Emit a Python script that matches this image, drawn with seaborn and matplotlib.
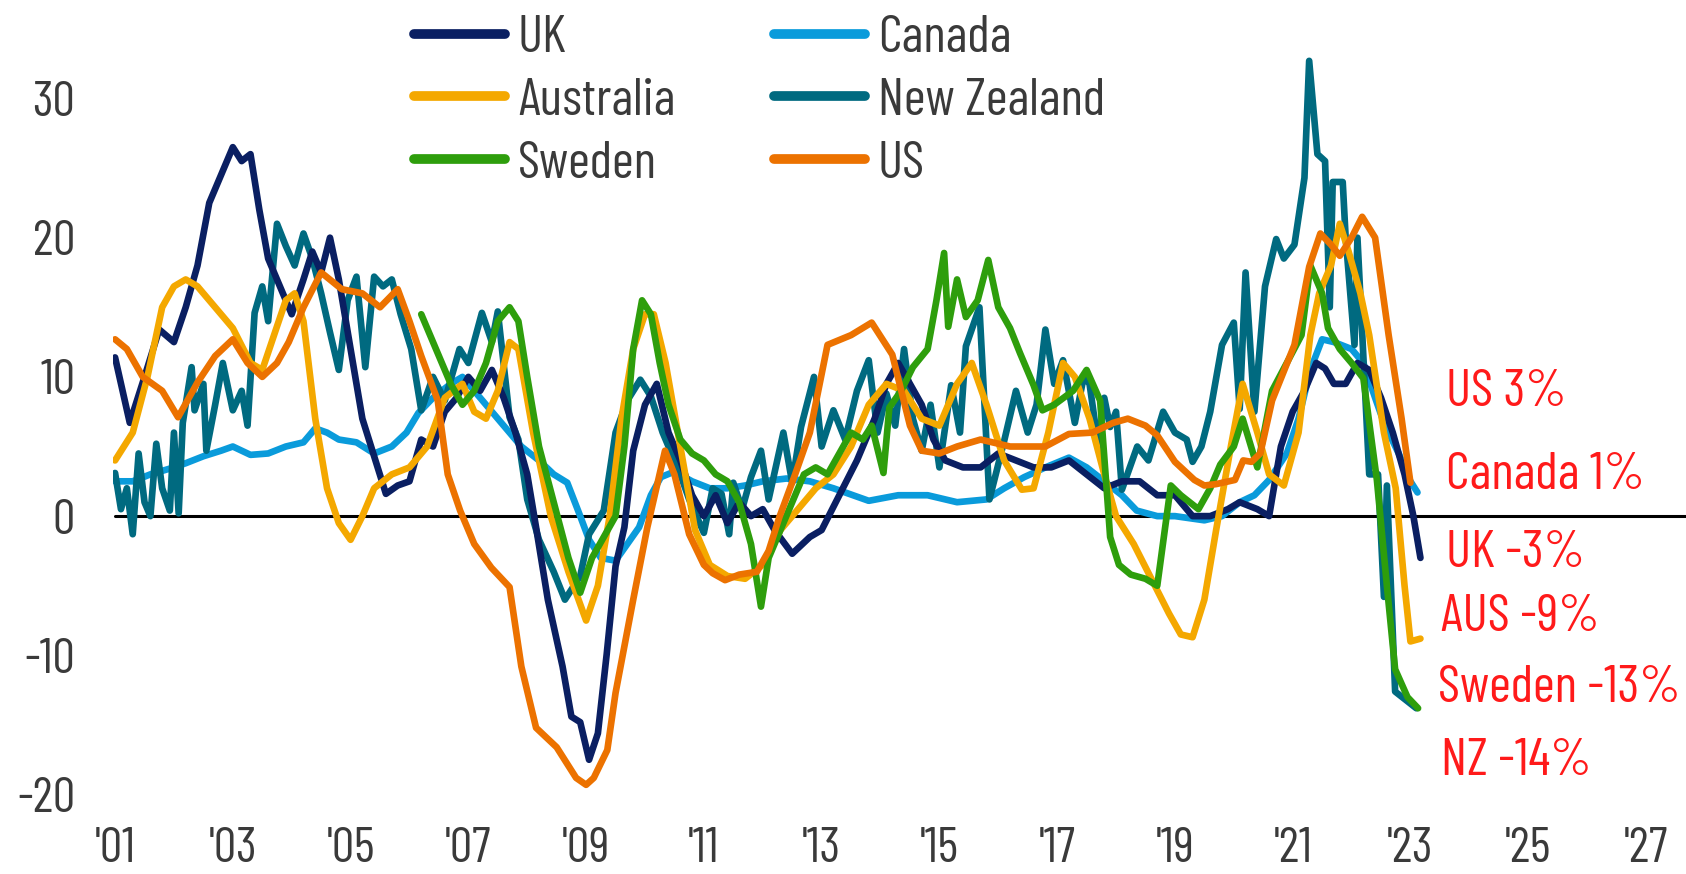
import numpy as np
import pandas as pd
import matplotlib
matplotlib.use("Agg")
import matplotlib.pyplot as plt
import seaborn as sns
from matplotlib.lines import Line2D

# ---------------- data (year fraction, % y/y) ----------------
uk_x = [2001.0, 2001.25, 2001.5, 2001.75, 2002.0, 2002.2, 2002.4, 2002.6, 2002.8, 2003.0, 2003.15, 2003.3,
        2003.45, 2003.6, 2003.8, 2004.0, 2004.2, 2004.35, 2004.5, 2004.65, 2004.8, 2005.0, 2005.2, 2005.4,
        2005.6, 2005.8, 2006.0, 2006.2, 2006.4, 2006.6, 2006.8, 2007.0, 2007.2, 2007.4, 2007.6, 2007.8,
        2008.0, 2008.15, 2008.35, 2008.6, 2008.75, 2008.9, 2009.05, 2009.2, 2009.35, 2009.5, 2009.65, 2009.8,
        2010.0, 2010.2, 2010.4, 2010.6, 2010.8, 2011.0, 2011.2, 2011.4, 2011.6, 2011.8, 2012.0, 2012.2,
        2012.5, 2012.8, 2013.0, 2013.3, 2013.6, 2013.9, 2014.1, 2014.3, 2014.5, 2014.7, 2014.9, 2015.1,
        2015.4, 2015.7, 2016.0, 2016.3, 2016.6, 2016.9, 2017.2, 2017.5, 2017.8, 2018.1, 2018.4, 2018.7,
        2019.0, 2019.3, 2019.6, 2019.9, 2020.1, 2020.4, 2020.6, 2020.8, 2021.0, 2021.2, 2021.4, 2021.55,
        2021.7, 2021.9, 2022.1, 2022.3, 2022.5, 2022.7, 2022.9, 2023.05, 2023.17]
uk_y = [11.4, 6.7, 10.0, 13.4, 12.5, 15.0, 18.0, 22.5, 24.5, 26.5, 25.5, 26.0,
        22.0, 18.5, 16.5, 14.5, 17.0, 19.0, 17.5, 20.0, 17.0, 12.0, 7.0, 4.3,
        1.6, 2.2, 2.5, 5.5, 5.0, 7.5, 8.5, 10.0, 9.0, 10.5, 8.5, 6.0,
        3.0, -0.8, -6.0, -10.8, -14.4, -14.8, -17.5, -15.6, -9.9, -3.6, -0.8, 4.7,
        8.0, 9.5, 6.0, 4.0, 1.5, 0.0, 1.5, -0.5, 1.0, 0.0, 0.5, -1.0,
        -2.7, -1.5, -1.0, 1.5, 4.0, 7.0, 9.5, 11.0, 9.5, 8.0, 5.5, 4.0,
        3.5, 3.5, 4.5, 4.0, 3.5, 3.5, 4.0, 3.0, 2.0, 2.5, 2.5, 1.5,
        1.5, 0.0, 0.0, 0.5, 1.0, 0.5, 0.0, 5.0, 7.5, 9.0, 11.0, 10.6,
        9.5, 9.5, 11.0, 10.5, 8.5, 6.0, 3.0, 0.0, -3.0]

aus_x = [2001.0, 2001.3, 2001.55, 2001.8, 2002.0, 2002.2, 2002.4, 2002.7, 2003.0, 2003.3, 2003.5, 2003.7,
         2003.9, 2004.05, 2004.2, 2004.4, 2004.6, 2004.8, 2005.0, 2005.2, 2005.4, 2005.7, 2006.0, 2006.3,
         2006.6, 2006.9, 2007.1, 2007.3, 2007.5, 2007.7, 2007.85, 2008.1, 2008.4, 2008.7, 2009.0, 2009.2,
         2009.4, 2009.6, 2009.8, 2010.0, 2010.15, 2010.35, 2010.6, 2010.85, 2011.1, 2011.4, 2011.7, 2012.0,
         2012.3, 2012.6, 2012.9, 2013.2, 2013.5, 2013.8, 2014.1, 2014.4, 2014.7, 2015.0, 2015.3, 2015.55,
         2015.8, 2016.1, 2016.4, 2016.6, 2016.85, 2017.1, 2017.3, 2017.55, 2017.8, 2018.0, 2018.3, 2018.6,
         2018.9, 2019.1, 2019.3, 2019.5, 2019.7, 2019.95, 2020.15, 2020.4, 2020.6, 2020.85, 2021.1, 2021.3,
         2021.45, 2021.65, 2021.8, 2021.95, 2022.15, 2022.3, 2022.55, 2022.75, 2022.9, 2023.0, 2023.17]
aus_y = [4.0, 6.0, 10.0, 15.0, 16.5, 17.0, 16.5, 15.0, 13.5, 11.0, 10.5, 13.0,
         15.5, 16.0, 14.0, 7.0, 2.0, -0.5, -1.7, 0.0, 2.0, 3.0, 3.5, 5.0,
         8.5, 9.5, 7.5, 7.0, 9.0, 12.5, 12.0, 6.0, 0.0, -4.0, -7.5, -5.0,
         0.0, 7.0, 12.0, 14.5, 14.5, 11.0, 5.0, -1.0, -3.5, -4.3, -4.5, -3.5,
         -1.0, 0.5, 2.0, 3.0, 5.0, 8.0, 9.5, 9.0, 7.0, 6.5, 9.5, 11.0,
         8.0, 4.0, 1.9, 2.0, 6.0, 11.0, 10.0, 7.0, 3.0, 0.0, -2.0, -4.5,
         -7.0, -8.5, -8.7, -6.0, -1.0, 5.0, 9.5, 6.0, 3.0, 2.2, 6.0, 13.0,
         16.0, 18.0, 21.0, 19.0, 16.0, 13.0, 6.0, 2.0, -5.0, -9.0, -8.8]

swe_x = [2006.2, 2006.45, 2006.7, 2006.9, 2007.1, 2007.3, 2007.5, 2007.7, 2007.85, 2008.0, 2008.2, 2008.45,
         2008.7, 2008.9, 2009.1, 2009.3, 2009.5, 2009.65, 2009.8, 2009.95, 2010.1, 2010.25, 2010.4, 2010.6,
         2010.8, 2011.0, 2011.2, 2011.4, 2011.6, 2011.8, 2011.97, 2012.1, 2012.3, 2012.5, 2012.7, 2012.9,
         2013.1, 2013.3, 2013.5, 2013.7, 2013.85, 2014.05, 2014.15, 2014.35, 2014.55, 2014.8, 2014.95, 2015.08,
         2015.15, 2015.3, 2015.45, 2015.65, 2015.83, 2016.0, 2016.2, 2016.37, 2016.6, 2016.75, 2016.95, 2017.27,
         2017.5, 2017.73, 2017.9, 2018.05, 2018.25, 2018.5, 2018.7, 2018.93, 2019.1, 2019.4, 2019.6, 2019.77,
         2020.0, 2020.15, 2020.4, 2020.65, 2020.9, 2021.15, 2021.3, 2021.5, 2021.6, 2021.8, 2022.0, 2022.2,
         2022.43, 2022.6, 2022.74, 2022.95, 2023.13]
swe_y = [14.5, 12.0, 9.5, 8.0, 9.0, 11.0, 14.0, 15.0, 14.0, 10.0, 5.0, 1.0,
         -3.0, -5.5, -3.0, -1.5, 0.0, 5.0, 12.0, 15.5, 14.5, 11.0, 8.0, 5.5,
         4.5, 4.0, 3.0, 2.5, 1.0, -2.0, -6.5, -3.0, -1.0, 1.0, 3.0, 3.5,
         3.0, 4.5, 6.0, 5.5, 6.5, 3.1, 7.8, 9.0, 10.7, 12.0, 15.5, 18.9,
         13.6, 17.0, 14.3, 15.5, 18.4, 15.0, 13.5, 11.7, 9.4, 7.6, 8.0, 9.0,
         10.5, 8.3, -1.5, -3.5, -4.2, -4.5, -5.0, 2.2, 1.5, 0.5, 2.0, 3.7,
         5.0, 7.0, 3.5, 9.0, 11.0, 13.0, 18.0, 16.0, 13.5, 12.0, 11.0, 9.9,
         2.6, -5.0, -11.0, -13.0, -13.8]

can_x = [2001.0, 2001.3, 2001.6, 2002.0, 2002.2, 2002.5, 2002.8, 2003.0, 2003.3, 2003.6, 2003.9, 2004.2,
         2004.4, 2004.6, 2004.8, 2005.1, 2005.4, 2005.7, 2005.95, 2006.15, 2006.4, 2006.7, 2006.9, 2007.1,
         2007.3, 2007.6, 2007.9, 2008.2, 2008.45, 2008.68, 2008.9, 2009.05, 2009.25, 2009.5, 2009.7, 2009.9,
         2010.1, 2010.27, 2010.5, 2010.8, 2011.1, 2011.4, 2011.7, 2012.0, 2012.4, 2012.8, 2013.2, 2013.8,
         2014.3, 2014.8, 2015.3, 2015.8, 2016.1, 2016.44, 2016.8, 2017.2, 2017.5, 2017.8, 2018.1, 2018.35,
         2018.7, 2019.0, 2019.5, 2019.8, 2020.1, 2020.35, 2020.6, 2020.9, 2021.1, 2021.3, 2021.5, 2021.7,
         2022.0, 2022.2, 2022.4, 2022.55, 2022.8, 2023.0, 2023.12]
can_y = [2.5, 2.5, 3.0, 3.5, 3.8, 4.3, 4.7, 5.0, 4.4, 4.5, 5.0, 5.3,
         6.3, 6.0, 5.5, 5.3, 4.5, 5.0, 6.0, 7.4, 8.5, 9.5, 10.0, 9.0,
         8.0, 6.5, 5.0, 4.0, 3.0, 2.4, 0.0, -1.7, -3.0, -3.2, -2.0, -0.8,
         1.5, 2.8, 3.2, 2.5, 2.0, 2.0, 2.2, 2.5, 2.7, 2.5, 2.0, 1.1,
         1.5, 1.5, 1.0, 1.2, 2.0, 2.8, 3.5, 4.2, 3.5, 2.5, 1.5, 0.4,
         0.0, 0.0, -0.3, 0.0, 1.0, 1.5, 2.6, 4.5, 7.0, 10.5, 12.7, 12.5,
         12.0, 11.0, 8.5, 6.7, 4.5, 2.5, 1.7]

nz_x = [2001.0, 2001.1, 2001.2, 2001.3, 2001.4, 2001.5, 2001.6, 2001.7, 2001.8, 2001.93, 2002.0, 2002.08,
        2002.15, 2002.3, 2002.35, 2002.5, 2002.55, 2002.7, 2002.83, 2003.0, 2003.15, 2003.25, 2003.37, 2003.5,
        2003.6, 2003.75, 2003.9, 2004.05, 2004.2, 2004.35, 2004.5, 2004.65, 2004.8, 2004.95, 2005.1, 2005.25,
        2005.4, 2005.55, 2005.7, 2005.85, 2006.03, 2006.2, 2006.4, 2006.6, 2006.85, 2007.0, 2007.23, 2007.4,
        2007.5, 2007.7, 2007.85, 2008.0, 2008.2, 2008.45, 2008.64, 2008.9, 2009.05, 2009.3, 2009.5, 2009.7,
        2009.92, 2010.1, 2010.3, 2010.6, 2010.75, 2011.0, 2011.15, 2011.3, 2011.43, 2011.5, 2011.65, 2011.8,
        2011.97, 2012.1, 2012.35, 2012.5, 2012.65, 2012.87, 2013.0, 2013.2, 2013.4, 2013.6, 2013.8, 2013.95,
        2014.1, 2014.25, 2014.4, 2014.55, 2014.7, 2014.85, 2015.0, 2015.2, 2015.35, 2015.45, 2015.68, 2015.85,
        2016.1, 2016.3, 2016.5, 2016.65, 2016.8, 2016.95, 2017.1, 2017.3, 2017.45, 2017.55, 2017.7, 2017.8,
        2017.9, 2018.0, 2018.1, 2018.36, 2018.55, 2018.8, 2019.0, 2019.2, 2019.3, 2019.45, 2019.6, 2019.8,
        2020.0, 2020.1, 2020.2, 2020.35, 2020.53, 2020.72, 2020.85, 2021.03, 2021.2, 2021.28, 2021.42, 2021.55,
        2021.63, 2021.68, 2021.85, 2021.9, 2022.05, 2022.1, 2022.2, 2022.3, 2022.45, 2022.55, 2022.6, 2022.74,
        2023.1]
nz_y = [3.1, 0.5, 2.0, -1.3, 4.5, 1.0, 0.0, 5.2, 2.0, 0.4, 6.0, 0.2,
        6.7, 10.7, 7.6, 9.5, 4.7, 8.0, 11.0, 7.6, 9.0, 6.5, 14.6, 16.5,
        14.0, 21.0, 19.4, 18.0, 20.3, 18.5, 16.0, 13.2, 10.5, 15.5, 17.2, 10.7,
        17.2, 16.5, 17.0, 14.5, 12.0, 7.6, 10.0, 8.3, 12.0, 11.0, 14.6, 12.5,
        14.7, 7.1, 5.5, 1.2, -1.7, -4.0, -6.0, -4.3, -1.3, 0.4, 6.0, 8.3,
        9.8, 8.6, 6.0, 3.0, 1.2, -1.2, 2.0, 1.6, -1.3, 2.4, 0.5, 2.8,
        4.7, 1.2, 6.0, 2.4, 6.4, 10.0, 5.0, 7.6, 5.5, 9.0, 11.2, 6.0,
        8.8, 6.5, 12.0, 7.0, 4.7, 8.0, 3.5, 9.4, 6.0, 12.2, 15.0, 1.2,
        5.4, 9.0, 6.0, 8.0, 13.4, 9.5, 11.2, 6.7, 10.0, 9.5, 5.0, 8.5,
        6.4, 7.5, 1.9, 5.0, 4.0, 7.5, 6.0, 5.5, 3.9, 5.0, 7.5, 12.3,
        13.9, 7.7, 17.5, 7.5, 16.5, 19.9, 18.5, 19.5, 24.3, 32.7, 26.0, 25.5,
        15.0, 24.0, 24.0, 20.0, 12.3, 20.0, 11.5, 3.0, 3.0, -5.8, 2.2, -12.6,
        -13.8]

us_x = [2001.0, 2001.2, 2001.47, 2001.8, 2002.07, 2002.4, 2002.7, 2003.0, 2003.25, 2003.5, 2003.75, 2003.95,
        2004.2, 2004.5, 2004.85, 2005.2, 2005.5, 2005.8, 2006.0, 2006.2, 2006.48, 2006.65, 2006.86, 2007.1,
        2007.39, 2007.7, 2007.9, 2008.15, 2008.5, 2008.83, 2009.0, 2009.13, 2009.36, 2009.5, 2009.8, 2010.04,
        2010.34, 2010.5, 2010.75, 2011.0, 2011.15, 2011.36, 2011.6, 2011.9, 2012.1, 2012.28, 2012.55, 2012.8,
        2013.1, 2013.5, 2013.85, 2014.2, 2014.5, 2014.7, 2015.0, 2015.3, 2015.7, 2016.2, 2016.8, 2017.2,
        2017.6, 2017.95, 2018.2, 2018.5, 2018.7, 2019.0, 2019.33, 2019.5, 2019.7, 2020.02, 2020.16, 2020.3,
        2020.45, 2020.65, 2021.03, 2021.28, 2021.47, 2021.65, 2021.8, 2022.0, 2022.18, 2022.4, 2022.63, 2022.85,
        2023.0]
us_y = [12.7, 12.0, 10.0, 9.0, 7.1, 9.6, 11.5, 12.7, 11.0, 10.0, 11.0, 12.5,
        15.0, 17.5, 16.3, 16.0, 15.0, 16.3, 14.0, 11.5, 8.3, 3.0, 0.4, -2.0,
        -3.7, -5.1, -10.8, -15.2, -16.6, -18.8, -19.3, -18.8, -16.8, -12.7, -6.0, -0.8,
        4.7, 3.0, -1.3, -3.5, -4.1, -4.6, -4.2, -4.0, -2.5, -0.1, 3.0, 6.0,
        12.3, 13.0, 13.9, 11.6, 6.5, 4.7, 4.5, 5.0, 5.5, 5.0, 5.0, 5.9,
        6.0, 6.7, 7.0, 6.5, 5.8, 3.9, 2.6, 2.2, 2.3, 2.6, 4.0, 3.9,
        4.5, 8.3, 12.3, 17.9, 20.3, 19.5, 18.7, 20.0, 21.5, 20.0, 13.0, 7.0,
        2.4]

countries = ["UK", "Australia", "Sweden", "Canada", "New Zealand", "US"]
colors = {"UK": "#0A1F62", "Australia": "#F4A800", "Sweden": "#2E9E0C",
          "Canada": "#0A9BDB", "New Zealand": "#006A80", "US": "#EC7200"}

end_labels = ["US 3%", "Canada 1%", "UK -3%", "AUS -9%", "Sweden -13%", "NZ -14%"]
end_label_y = [8.9, 2.9, -2.7, -7.3, -12.4, -17.6]
end_label_x = [2023.61, 2023.61, 2023.61, 2023.52, 2023.47, 2023.52]

year_ticks = list(range(2001, 2028, 2))
year_tick_labels = ["'" + str(y)[2:] for y in year_ticks]
value_ticks = [-20, -10, 0, 10, 20, 30]

# ---------------- build long table ----------------
series = {"UK": (uk_x, uk_y), "Australia": (aus_x, aus_y), "Sweden": (swe_x, swe_y),
          "Canada": (can_x, can_y), "New Zealand": (nz_x, nz_y), "US": (us_x, us_y)}
frames = [pd.DataFrame({"year": xs, "value": ys, "country": c}) for c, (xs, ys) in series.items()]
df = pd.concat(frames, ignore_index=True)

# ---------------- plot ----------------
sns.set_theme(style="white")
FONT = ["Barlow Condensed", "Fira Sans Extra Condensed", "DejaVu Sans"]
plt.rcParams["font.family"] = FONT
plt.rcParams["axes.unicode_minus"] = False

fig = plt.figure(figsize=(16.86, 8.74), dpi=100)
ax = fig.add_axes([0.0672, 0.059, 0.9328, 0.941])

draw_order = ["Canada", "New Zealand", "UK", "Australia", "Sweden", "US"]
sns.lineplot(data=df, x="year", y="value", hue="country", hue_order=draw_order,
             palette=colors, estimator=None, sort=True, linewidth=4.8, ax=ax, legend=False)

ax.axhline(0, xmin=0.0011, xmax=1, color="black", linewidth=2.2, zorder=1)

ax.set_xlim(2000.97, 2027.68)
ax.set_ylim(-22.0, 37.07)
ax.set_xticks(year_ticks)
ax.set_xticklabels(year_tick_labels)
ax.set_yticks(value_ticks)
ax.set_xlabel("")
ax.set_ylabel("")
for s in ax.spines.values():
    s.set_visible(False)
ax.tick_params(axis="both", length=0, labelsize=36, colors="#3a3a3a")
ax.tick_params(axis="x", pad=3)
ax.tick_params(axis="y", pad=27.5)

for txt, xx, yy in zip(end_labels, end_label_x, end_label_y):
    ax.text(xx, yy, txt, color="#FF1A1A", fontsize=38, va="center", ha="left")

# legend: two columns placed as in the reference
legend_kw = dict(loc="upper left", frameon=False, fontsize=38, handlelength=1.72, handletextpad=0.25,
                 labelspacing=0.30, borderpad=0, borderaxespad=0, labelcolor="#3a3a3a")
col1 = countries[:3]
col2 = countries[3:]
fig.legend([Line2D([0], [0], color=colors[c], linewidth=7) for c in col1], col1,
           bbox_to_anchor=(414 / 1686, 1 - 15 / 874), **legend_kw)
fig.legend([Line2D([0], [0], color=colors[c], linewidth=7) for c in col2], col2,
           bbox_to_anchor=(774 / 1686, 1 - 15 / 874), **legend_kw)

fig.savefig("out.png", dpi=100)
